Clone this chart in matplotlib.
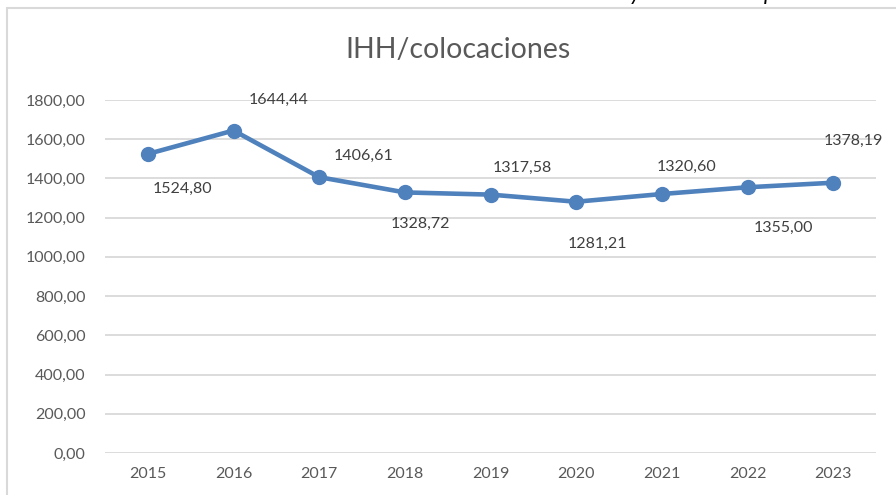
import matplotlib.pyplot as plt
from matplotlib.patches import Rectangle

years = ["2015", "2016", "2017", "2018", "2019", "2020", "2021", "2022", "2023"]
ihh = [1524.80, 1644.44, 1406.61, 1328.72, 1317.58, 1281.21, 1320.60, 1355.00, 1378.19]
yticks = [0, 200, 400, 600, 800, 1000, 1200, 1400, 1600, 1800]

# label offsets in pixels (dx, dy), as placed in the original
offsets = [(35, -35), (45, 31), (44, 21), (16, -31), (32, 27),
           (21, -42), (25, 27), (36, -41), (20, 42)]

plt.rcParams['font.family'] = ['Lato', 'DejaVu Sans']

def fmt(v):
    return f"{v:.2f}".replace(".", ",")

fig = plt.figure(figsize=(8.96, 4.95), dpi=100)
ax = fig.add_axes([105 / 896, 1 - 453 / 495, 771 / 896, 353 / 495])

x = list(range(len(years)))
ax.plot(x, ihh, color="#4f81bd", lw=3.3, marker="o", ms=10, solid_capstyle="round", zorder=3)

for xi, v, (dx, dy) in zip(x, ihh, offsets):
    ax.annotate(fmt(v), (xi, v), xytext=(dx, dy), textcoords="offset pixels",
                ha="center", va="center", fontsize=11.5, color="#404040")

ax.set_xlim(-0.5, len(years) - 0.5)
ax.set_ylim(0, 1800)
ax.set_yticks(yticks)
ax.set_yticklabels([fmt(v) for v in yticks], fontsize=11.5, color="#595959")
ax.set_xticks(x)
ax.set_xticklabels(years, fontsize=11.5, color="#595959")
ax.tick_params(length=0, pad=10)
ax.tick_params(axis="y", pad=14)
ax.grid(axis="y", color="#d9d9d9", lw=1.3)
ax.set_axisbelow(True)
for s in ax.spines.values():
    s.set_visible(False)

fig.text(458 / 896, 1 - 50 / 495, "IHH/colocaciones", ha="center", va="center",
         fontsize=20.5, color="#595959")

# chart frame, cut off at right and bottom
fig.patches.append(Rectangle((7 / 896, -0.1), 1.2, 1 - 8 / 495 + 0.1, transform=fig.transFigure,
                             fill=False, ec="#d9d9d9", lw=1.5))
# fragments of the text above the chart
fig.text(635 / 896, 1.012, "y", fontstyle="italic", fontsize=16, ha="center", va="center", color="black")
fig.text(770 / 896, 1.012, "p", fontstyle="italic", fontsize=16, ha="center", va="center", color="black")

fig.savefig("out.png", dpi=100)
